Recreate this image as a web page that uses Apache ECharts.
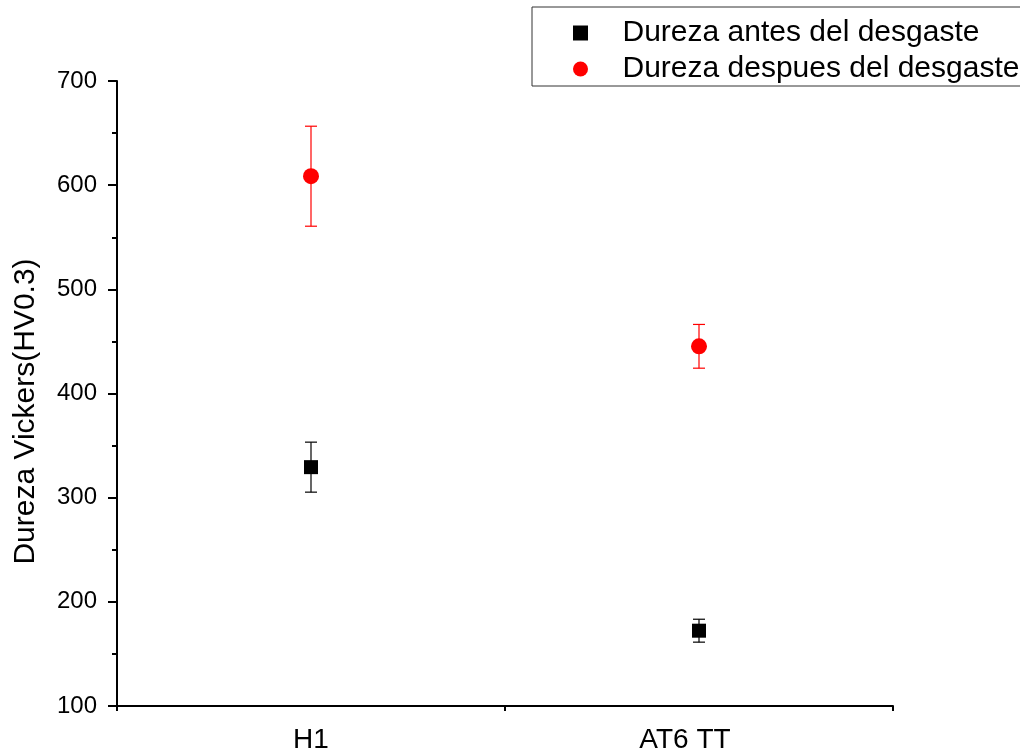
<!DOCTYPE html>
<html>
<head>
<meta charset="utf-8">
<script src="https://cdn.jsdelivr.net/npm/echarts@6/dist/echarts.min.js"></script>
<style>
  html, body { margin: 0; padding: 0; background: #fff; }
  #chart { width: 1020px; height: 749px; }
</style>
</head>
<body>
<div id="chart"></div>
<script>
// Vickers hardness per sample, before and after wear, with standard deviation
const categories = ['H1', 'AT6 TT'];
const antesValues = [329.3, 172.3];
const antesErrors = [24, 11];
const despuesValues = [608.6, 445.3];
const despuesErrors = [48, 21];
const yTicks = { min: 100, max: 700, interval: 100 };

const FONT = '"Liberation Sans", Arial, sans-serif';

function errorBarSeries(name, values, errors, color) {
  const data = values.map((v, i) => [i, v - errors[i], v + errors[i]]);
  return {
    type: 'custom',
    name: name + ' error',
    z: 1,
    silent: true,
    data: data,
    encode: { x: 0, y: [1, 2] },
    renderItem: function (params, api) {
      const x = api.value(0);
      const lo = api.coord([x, api.value(1)]);
      const hi = api.coord([x, api.value(2)]);
      const hw = 6;
      const style = { stroke: color, lineWidth: 1.2, fill: null };
      return {
        type: 'group',
        children: [
          { type: 'line', shape: { x1: hi[0], y1: hi[1], x2: lo[0], y2: lo[1] }, style: style },
          { type: 'line', shape: { x1: hi[0] - hw, y1: hi[1], x2: hi[0] + hw, y2: hi[1] }, style: style },
          { type: 'line', shape: { x1: lo[0] - hw, y1: lo[1], x2: lo[0] + hw, y2: lo[1] }, style: style }
        ]
      };
    }
  };
}

// second category label sits a little left of its tick
const categoryLabels = categories.map((c, i) => i === 1
  ? { value: c, textStyle: { padding: [0, 28, 0, 0] } }
  : c);

const chart = echarts.init(document.getElementById('chart'), null, { renderer: 'canvas' });

chart.setOption({
  backgroundColor: '#ffffff',
  animation: false,
  textStyle: { fontFamily: FONT },
  grid: { left: 117, right: 127, top: 81, bottom: 43, containLabel: false, outerBoundsMode: 'none' },
  legend: {
    orient: 'vertical',
    left: 532,
    top: 7,
    padding: [11, 80, 2, 41],
    itemGap: 6,
    itemWidth: 74,
    itemHeight: 15,
    borderColor: '#333',
    borderWidth: 1,
    textStyle: { fontSize: 30, lineHeight: 30, color: '#000', fontFamily: FONT },
    data: [
      { name: 'Dureza antes del desgaste', icon: 'path://M0,0H10V10H0Z' },
      { name: 'Dureza despues del desgaste', icon: 'circle' }
    ]
  },
  xAxis: [
    {
      type: 'category',
      data: categoryLabels,
      boundaryGap: true,
      axisLine: { lineStyle: { color: '#000', width: 2 } },
      axisTick: { alignWithLabel: true, length: 9, lineStyle: { color: '#000', width: 2 } },
      axisLabel: { color: '#000', fontSize: 28, margin: 20, fontFamily: FONT },
      splitLine: { show: false }
    },
    {
      type: 'category',
      data: categories.map(() => ''),
      boundaryGap: true,
      position: 'bottom',
      axisLine: { show: false },
      axisTick: { show: true, length: 5, lineStyle: { color: '#000', width: 2 } },
      axisLabel: { show: false },
      splitLine: { show: false }
    }
  ],
  yAxis: {
    type: 'value',
    min: yTicks.min,
    max: yTicks.max,
    interval: yTicks.interval,
    name: 'Dureza Vickers(HV0.3)',
    nameLocation: 'middle',
    nameGap: 76,
    nameTextStyle: { fontSize: 30, color: '#000', fontFamily: FONT, padding: [0, 36, 0, 0] },
    axisLine: { show: true, lineStyle: { color: '#000', width: 2 } },
    axisTick: { show: true, length: 9, lineStyle: { color: '#000', width: 2 } },
    minorTick: { show: true, splitNumber: 2, length: 5, lineStyle: { color: '#000', width: 2 } },
    axisLabel: { color: '#000', fontSize: 24, margin: 20, fontFamily: FONT },
    splitLine: { show: false }
  },
  series: [
    errorBarSeries('Dureza antes del desgaste', antesValues, antesErrors, '#000000'),
    errorBarSeries('Dureza despues del desgaste', despuesValues, despuesErrors, '#ff0000'),
    {
      type: 'scatter',
      name: 'Dureza antes del desgaste',
      symbol: 'rect',
      symbolSize: 14,
      z: 3,
      itemStyle: { color: '#000000', opacity: 1 },
      data: antesValues.map((v, i) => [i, v])
    },
    {
      type: 'scatter',
      name: 'Dureza despues del desgaste',
      symbol: 'circle',
      symbolSize: 16,
      z: 3,
      itemStyle: { color: '#ff0000', opacity: 1 },
      data: despuesValues.map((v, i) => [i, v])
    }
  ]
});
</script>
</body>
</html>
